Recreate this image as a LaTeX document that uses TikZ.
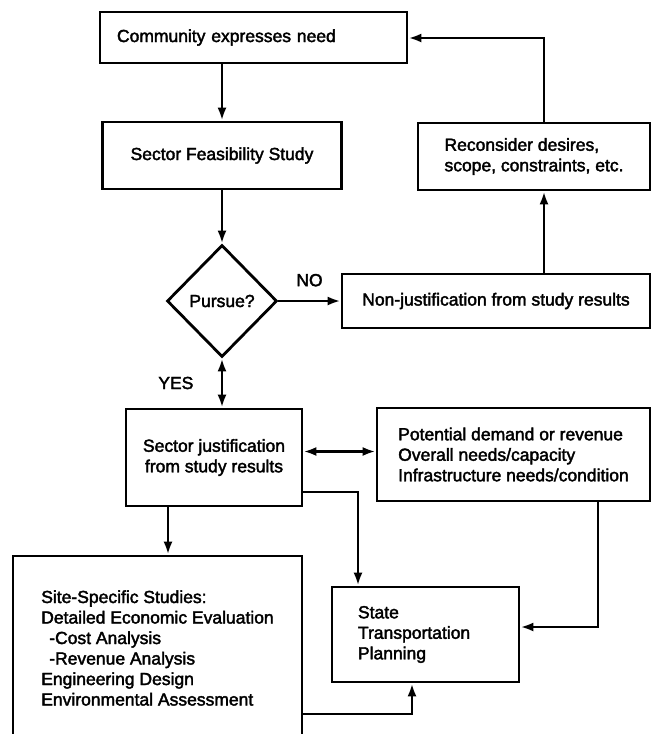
\documentclass[tikz,border=0pt]{standalone}
\usepackage{fontspec}
\setmainfont{Liberation Sans}
\newfontfamily\chartfont{Liberation Sans}[FakeBold=2.2]
\usetikzlibrary{arrows.meta,shapes.geometric,positioning}

\begin{document}
\begin{tikzpicture}[x=1pt, y=-1pt,
  every node/.style={font=\chartfont\fontsize{17.5}{20.5}\selectfont},
  box/.style={draw, line width=2.8pt, rectangle, inner sep=0pt},
  link/.style={line width=2.6pt, -{Latex[length=13pt,width=9pt]}},
  twoway/.style={line width=2.6pt, {Latex[length=13pt,width=9pt]}-{Latex[length=13pt,width=9pt]}}]
% Sector study flow chart. Units are picture pixels (y runs down),
% so every box sits at its measured centre with its measured size.
\clip (0,0) rectangle (652,734);
\node[box, minimum width=307pt, minimum height=51pt, text width=273pt,
  inner xsep=17pt, align=left] (need) at (253.5,37.5) {Community expresses need};
\node[box, minimum width=239pt, minimum height=67pt] (feas) at (222,155.5)
  {Sector Feasibility Study};
\node[draw, diamond, line width=2.8pt, minimum width=110pt, minimum height=112pt,
  inner sep=0pt] (pursue) at (222,301) {Pursue?};
\node[box, minimum width=308pt, minimum height=54pt] (nonjust) at (496,301)
  {Non-justification from study results};
\node[box, minimum width=232pt, minimum height=67pt, align=left] (reconsider)
  at (534,156.5) {Reconsider desires,\\scope, constraints, etc.};
\node[box, minimum width=176pt, minimum height=97pt, align=center] (sectorjust)
  at (214,457.5) {Sector justification\\from study results};
\node[box, minimum width=273pt, minimum height=93pt, align=left] (potential)
  at (513.5,454.5) {Potential demand or revenue\\Overall needs/capacity\\
  Infrastructure needs/condition};
\node[box, minimum width=289pt, minimum height=184pt, align=left] (site)
  at (157.5,648) {Site-Specific Studies:\\Detailed Economic Evaluation\\
  \hspace*{8pt}-Cost Analysis\\\hspace*{8pt}-Revenue Analysis\\
  Engineering Design\\Environmental Assessment};
\node[box, minimum width=187pt, minimum height=95pt, text width=135pt,
  inner xsep=26pt, align=left] (state) at (425.5,634.5)
  {State\\Transportation\\Planning};

\coordinate (back) at (544,38);
\coordinate (split) at (358,492);
\coordinate (feed) at (598,627);
\coordinate (join) at (412,714);

\draw[link] (need.south -| feas.north) -- (feas.north);
\draw[link] (feas.south) -- (pursue.north);
\draw[link] (pursue.east) -- node[above=10pt] {NO} (nonjust.west);
\draw[link] (nonjust.north -| back) -- (reconsider.south -| back);
\draw[link] (reconsider.north -| back) -- (back) -- (need.east |- back);
\draw[twoway] (pursue.south) -- node[left=24pt] {YES}
  (sectorjust.north -| pursue.south);
\draw[twoway] ([yshift=6pt]sectorjust.east) -- ([yshift=6pt]sectorjust.east -| potential.west);
\draw[link] (sectorjust.east |- split) -- (split) -- (state.north -| split);
\draw[link] ([xshift=-46pt]sectorjust.south) -- ([xshift=-46pt]sectorjust.south |- site.north);
\draw[link] (potential.south -| feed) -- (feed) -- (state.east |- feed);
\draw[link] (site.east |- join) -- (join) -- (state.south -| join);
\end{tikzpicture}
\end{document}
